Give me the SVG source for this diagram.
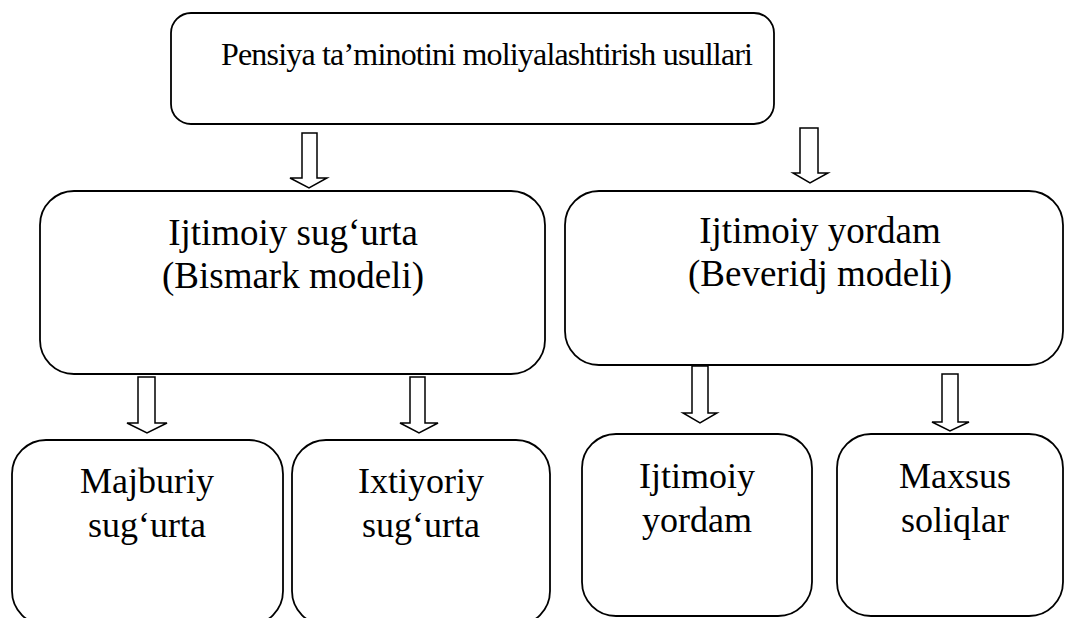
<svg xmlns="http://www.w3.org/2000/svg" width="1065" height="618" viewBox="0 0 1065 618">
  <style>
    .box { fill: #ffffff; stroke: #000000; stroke-width: 1.8; }
    .arrow { fill: #ffffff; stroke: #000000; stroke-width: 1.5; stroke-linejoin: miter; }
    .lbl { font-family: 'Liberation Serif', 'Times New Roman', serif; font-size: 36px; fill: #000000; text-anchor: middle; }
    .title { font-size: 32px; }
    .mid { font-size: 37px; }
  </style>
  <rect width="1065" height="618" fill="#ffffff"/>

  <!-- block arrows between levels -->
  <g id="connectors">
    <path class="arrow" d="M302,133 H317 V178 H327 L309,188 L290,178 H302 Z"/>
    <path class="arrow" d="M800,128 H818 V173 H828 L810,183 L793,173 H800 Z"/>
    <path class="arrow" d="M138,377 H155 V423 H167 L147,433 L127,423 H138 Z"/>
    <path class="arrow" d="M410,377 H425 V423 H438 L419,433 L400,423 H410 Z"/>
    <path class="arrow" d="M692,366 H708 V413 H717 L700,423 L683,413 H692 Z"/>
    <path class="arrow" d="M942,374 H958 V422 H969 L950,431 L932,422 H942 Z"/>
  </g>

  <g id="root">
    <rect class="box" x="171" y="13" width="603" height="111" rx="20" ry="20"/>
    <!-- title set with slightly tightened character spacing -->
    <text class="lbl title" x="487" y="65" textLength="532" lengthAdjust="spacing">Pensiya ta’minotini moliyalashtirish usullari</text>
  </g>

  <g id="bismark">
    <rect class="box" x="40" y="191" width="505" height="183" rx="34" ry="34"/>
    <text class="lbl mid" x="293" y="245">Ijtimoiy sug‘urta</text>
    <text class="lbl mid" x="293" y="288">(Bismark modeli)</text>
  </g>

  <g id="beveridge">
    <rect class="box" x="565" y="191" width="498" height="174" rx="34" ry="34"/>
    <text class="lbl mid" x="820" y="243">Ijtimoiy yordam</text>
    <text class="lbl mid" x="820" y="286">(Beveridj modeli)</text>
  </g>

  <g id="majburiy">
    <rect class="box" x="12" y="440" width="271" height="185" rx="34" ry="34"/>
    <text class="lbl" x="147" y="493">Majburiy</text>
    <text class="lbl" x="147" y="537">sug‘urta</text>
  </g>

  <g id="ixtiyoriy">
    <rect class="box" x="292" y="440" width="258" height="185" rx="34" ry="34"/>
    <text class="lbl" x="421" y="493">Ixtiyoriy</text>
    <text class="lbl" x="421" y="537">sug‘urta</text>
  </g>

  <g id="ijtimoiy-yordam">
    <rect class="box" x="582" y="434" width="230" height="182" rx="34" ry="34"/>
    <text class="lbl" x="697" y="488">Ijtimoiy</text>
    <text class="lbl" x="697" y="532">yordam</text>
  </g>

  <g id="maxsus">
    <rect class="box" x="837" y="434" width="226" height="182" rx="34" ry="34"/>
    <text class="lbl" x="955" y="488">Maxsus</text>
    <text class="lbl" x="955" y="532">soliqlar</text>
  </g>
</svg>
